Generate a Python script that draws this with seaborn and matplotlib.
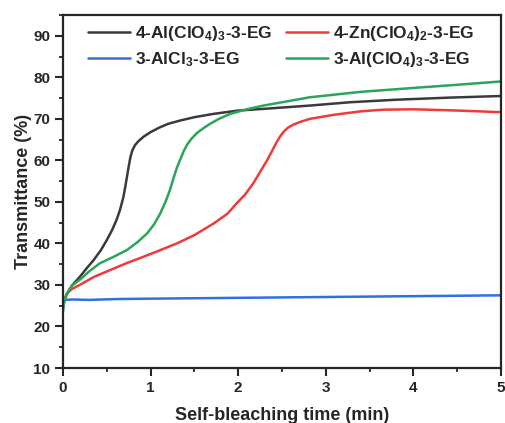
import numpy as np
import pandas as pd
import matplotlib
matplotlib.use("Agg")
import matplotlib.pyplot as plt
import seaborn as sns
from matplotlib.ticker import MultipleLocator

# ---- data ----
labels = [r"4-Al(ClO$_4$)$_3$-3-EG", r"3-AlCl$_3$-3-EG",
          r"4-Zn(ClO$_4$)$_2$-3-EG", r"3-Al(ClO$_4$)$_3$-3-EG"]
colors = ["#3a3a3a", "#2f6fe0", "#f03a3a", "#2aa55a"]

t_black = [0, 0.01, 0.04, 0.1, 0.19, 0.27, 0.35, 0.43, 0.5, 0.56, 0.61, 0.65,
           0.69, 0.71, 0.73, 0.75, 0.77, 0.79, 0.82, 0.86, 0.92, 1.0, 1.1, 1.2,
           1.34, 1.5, 1.72, 2.0, 2.29, 2.82, 3.28, 3.8, 4.4, 5.0]
v_black = [24.5, 25.8, 27.6, 29.8, 31.9, 34.0, 36.0, 38.3, 40.8, 43.2, 45.6, 48.0,
           51.2, 53.5, 56.0, 58.5, 60.8, 62.3, 63.6, 64.6, 65.7, 66.8, 67.9, 68.8,
           69.6, 70.4, 71.2, 72.0, 72.4, 73.2, 74.0, 74.6, 75.1, 75.5]

t_blue = [0, 0.01, 0.03, 0.1, 0.3, 0.6, 1.0, 1.5, 2.0, 2.5, 3.0, 3.5, 4.0, 4.5, 5.0]
v_blue = [24.8, 26.0, 26.4, 26.5, 26.4, 26.6, 26.7, 26.8, 26.9, 27.0, 27.1, 27.2, 27.3, 27.4, 27.5]

t_red = [0, 0.01, 0.04, 0.1, 0.19, 0.35, 0.54, 0.72, 0.92, 1.1, 1.3, 1.5, 1.72,
         1.88, 1.98, 2.08, 2.17, 2.25, 2.33, 2.39, 2.44, 2.48, 2.52, 2.57, 2.63,
         2.7, 2.82, 3.1, 3.4, 3.65, 4.0, 4.5, 5.0]
v_red = [24.5, 26.0, 27.8, 29.0, 30.0, 31.9, 33.6, 35.2, 36.8, 38.3, 40.0, 42.0, 44.8,
         47.2, 49.6, 51.8, 54.4, 57.2, 60.0, 62.4, 64.4, 65.8, 66.9, 67.9, 68.6,
         69.2, 70.0, 71.0, 71.8, 72.2, 72.3, 72.0, 71.6]

t_green = [0, 0.01, 0.04, 0.1, 0.19, 0.3, 0.42, 0.58, 0.73, 0.85, 0.96, 1.04, 1.11,
           1.17, 1.22, 1.26, 1.3, 1.34, 1.38, 1.42, 1.47, 1.53, 1.6, 1.68, 1.78,
           1.91, 2.1, 2.29, 2.82, 3.4, 4.04, 4.5, 5.0]
v_green = [23.6, 25.5, 27.8, 29.8, 31.2, 33.3, 35.2, 36.8, 38.4, 40.3, 42.4, 44.6, 47.2,
           50.0, 52.8, 55.6, 58.2, 60.3, 62.3, 63.9, 65.3, 66.6, 67.7, 68.8, 70.0,
           71.2, 72.3, 73.2, 75.2, 76.5, 77.5, 78.2, 79.0]

ts = [t_black, t_blue, t_red, t_green]
vs = [v_black, v_blue, v_red, v_green]

frames = []
for lab, t, v in zip(labels, ts, vs):
    frames.append(pd.DataFrame({"time": t, "T": v, "sample": lab}))
df = pd.concat(frames, ignore_index=True)

# ---- style ----
sns.set_style("ticks")
plt.rcParams["font.family"] = ["Liberation Sans", "DejaVu Sans"]
plt.rcParams["font.weight"] = "bold"
plt.rcParams["mathtext.fontset"] = "custom"
plt.rcParams["mathtext.bf"] = "Liberation Sans:bold"
plt.rcParams["mathtext.rm"] = "Liberation Sans:bold"
plt.rcParams["mathtext.default"] = "bf"

fig = plt.figure(figsize=(5.06, 4.23), dpi=100)
ax = fig.add_axes([0.1245, 0.130, 0.8655, 0.8345])

sns.lineplot(data=df, x="time", y="T", hue="sample", hue_order=labels,
             palette=colors, linewidth=1.8, sort=False, estimator=None, ax=ax)

ax.set_xlim(0, 5)
ax.set_ylim(10, 95)
ax.xaxis.set_major_locator(MultipleLocator(1))
ax.xaxis.set_minor_locator(MultipleLocator(0.5))
ax.yaxis.set_minor_locator(MultipleLocator(5))
ax.set_yticks(np.arange(10, 91, 10))
ax.tick_params(which="major", length=6, width=1.5, labelsize=11, direction="out", pad=3)
ax.tick_params(which="minor", length=3, width=1.3, direction="out")
for lbl in ax.get_xticklabels() + ax.get_yticklabels():
    lbl.set_fontweight("bold")
for s in ax.spines.values():
    s.set_linewidth(1.6)
    s.set_visible(True)

ax.set_xlabel("Self-bleaching time (min)", fontsize=13, fontweight="bold", labelpad=9)
ax.set_ylabel("Transmittance (%)", fontsize=13, fontweight="bold", labelpad=1)

leg = ax.legend(ncol=2, frameon=False, loc="upper left", fontsize=12.5,
                handlelength=2.4, handletextpad=0.3, columnspacing=0.8,
                labelspacing=0.42, borderaxespad=0.0, borderpad=0.4,
                bbox_to_anchor=(18 / 438, 1 - 2 / 353))
for txt in leg.get_texts():
    txt.set_fontweight("bold")

fig.savefig("out.png", dpi=100)
